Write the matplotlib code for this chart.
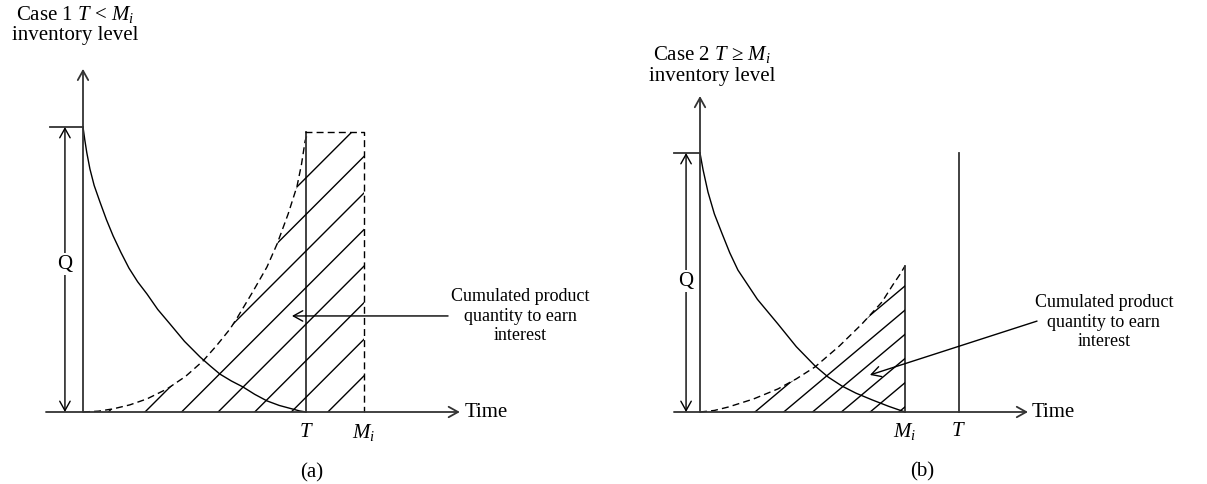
import numpy as np
import matplotlib
matplotlib.use('Agg')
import matplotlib.pyplot as plt
from matplotlib.patches import Polygon

plt.rcParams['font.family'] = ['Liberation Serif', 'DejaVu Serif']
plt.rcParams['mathtext.fontset'] = 'custom'
plt.rcParams['mathtext.rm'] = 'Liberation Serif'
plt.rcParams['mathtext.it'] = 'Liberation Serif:italic'
plt.rcParams['font.size'] = 15

# panel (a): case 1, T < M_i  (time in units of T, inventory in units of Q)
a_T = 1.0
a_M = 1.26
a_Q = 1.0
a_top = 0.982
a_decay_t = [0, 0.008, 0.017, 0.031, 0.05, 0.076, 0.105, 0.135, 0.17, 0.206, 0.245, 0.287,
             0.335, 0.390, 0.455, 0.525, 0.57, 0.614, 0.665, 0.717, 0.77, 0.825, 0.88, 0.937, 0.97, 1.0]
a_decay_q = [1.0, 0.955, 0.91, 0.853, 0.795, 0.737, 0.675, 0.618, 0.56, 0.505, 0.457, 0.414,
             0.36, 0.309, 0.248, 0.193, 0.162, 0.133, 0.109, 0.088, 0.062, 0.039, 0.023, 0.011, 0.004, 0.0]
a_cum_t = [0, 0.07, 0.135, 0.21, 0.287, 0.377, 0.46, 0.538, 0.6, 0.659, 0.691, 0.76,
           0.825, 0.870, 0.92, 0.960, 0.98, 0.996, 1.009]
a_cum_q = [0, 0.003, 0.011, 0.025, 0.046, 0.081, 0.125, 0.179, 0.234, 0.291, 0.330, 0.42,
           0.509, 0.589, 0.695, 0.793, 0.87, 0.951, 0.982]

# panel (b): case 2, T >= M_i  (time in units of M_i)
b_M = 1.0
b_T = 1.263
b_Q = 1.0
b_decay_t = [0, 0.015, 0.039, 0.07, 0.107, 0.145, 0.185, 0.28, 0.38, 0.47, 0.561, 0.625,
             0.693, 0.76, 0.839, 0.92, 1.0]
b_decay_q = [1.0, 0.935, 0.849, 0.765, 0.69, 0.615, 0.548, 0.435, 0.340, 0.252, 0.178, 0.135,
             0.100, 0.073, 0.047, 0.022, 0.0]
b_cum_t = [0, 0.07, 0.137, 0.26, 0.380, 0.47, 0.561, 0.68, 0.790, 0.888, 0.94, 0.976, 1.0]
b_cum_q = [0, 0.006, 0.019, 0.05, 0.089, 0.128, 0.174, 0.255, 0.340, 0.425, 0.49, 0.532, 0.564]

note = 'Cumulated product\nquantity to earn\ninterest'

W, H = 1207, 485
fig = plt.figure(figsize=(W/100, H/100), dpi=100)

def make_axes(left_px, right_px, x0_px, y0_px, sx, sy):
    ax = fig.add_axes([left_px/W, 0, (right_px-left_px)/W, 1])
    ax.set_xlim((left_px-x0_px)/sx, (right_px-x0_px)/sx)
    ax.set_ylim(-(H-y0_px)/sy, y0_px/sy)
    ax.axis('off')
    return ax

def arrow(ax, start, end, style='->', lw=1.0, color='black'):
    ax.annotate('', xy=end, xytext=start,
                arrowprops=dict(arrowstyle=style + ',head_length=0.45,head_width=0.25',
                                lw=lw, color=color, shrinkA=0, shrinkB=0))

def hatch(ax, poly_x, poly_y, starts, slope, length):
    clip = Polygon(np.column_stack([poly_x, poly_y]), closed=True, transform=ax.transData)
    for s in starts:
        ln, = ax.plot([s, s+length], [0, slope*length], color='black', lw=1.0)
        ln.set_clip_path(clip)

axis_col = '#333333'
dash = (0, (5, 3))

# ---------------- panel (a)
ax = make_axes(0, 603, 83, 413, 223, 285)
arrow(ax, (0, 0), (0, 1.204), lw=1.3, color=axis_col)
arrow(ax, (-0.166, 0), (1.69, 0), lw=1.3, color=axis_col)
ax.plot([-0.148, 0], [a_Q, a_Q], color=axis_col, lw=1.3)
arrow(ax, (-0.081, 0), (-0.081, a_Q), style='<->', lw=1.0)
ax.text(-0.081, 0.52, 'Q', ha='center', va='center', bbox=dict(fc='white', ec='none', pad=1))
ax.plot(a_decay_t, a_decay_q, color='black', lw=1.0)
ax.plot(a_cum_t, a_cum_q, color='black', lw=1.0, ls=dash)
ax.plot([a_T, a_T], [0, a_top], color=axis_col, lw=1.3)
ax.plot([0.996, a_M, a_M], [a_top, a_top, 0], color='black', lw=1.0, ls=dash)
hatch(ax, a_cum_t + [a_M, a_M], a_cum_q + [a_top, 0],
      -0.050 + 0.164*np.arange(8), 223/285, 1.5)
arrow(ax, (1.637, 0.337), (0.937, 0.337))
ax.text(1.96, 0.34, note, ha='center', va='center', fontsize=13, linespacing=1.2)
ax.text(1.71, 0, 'Time', ha='left', va='center')
ax.text(a_T, -0.067, '$T$', ha='center', va='center')
ax.text(a_M, -0.067, '$M_i$', ha='center', va='center')
ax.text(1.027, -0.21, '(a)', ha='center', va='center')
ax.text(-0.036, 1.363, 'Case 1 $T$ < $M_i$\ninventory level', ha='center', va='center',
        linespacing=1.1)

# ---------------- panel (b)
ax = make_axes(603, 1207, 700, 413, 205, 259)
arrow(ax, (0, 0), (0, 1.22), lw=1.3, color=axis_col)
arrow(ax, (-0.127, 0), (1.6, 0), lw=1.3, color=axis_col)
ax.plot([-0.127, 0], [b_Q, b_Q], color=axis_col, lw=1.3)
arrow(ax, (-0.068, 0), (-0.068, b_Q), style='<->', lw=1.0)
ax.text(-0.068, 0.506, 'Q', ha='center', va='center', bbox=dict(fc='white', ec='none', pad=1))
ax.plot(b_decay_t, b_decay_q, color='black', lw=1.0)
ax.plot(b_cum_t, b_cum_q, color='black', lw=1.0, ls=dash)
ax.plot([b_M, b_M], [0, b_cum_q[-1]], color=axis_col, lw=1.3)
ax.plot([b_T, b_T], [0, b_Q], color=axis_col, lw=1.3)
hatch(ax, b_cum_t + [b_M], b_cum_q + [0],
      0.268 + 0.1405*np.arange(6), 0.84*205/259, 1.5)
arrow(ax, (1.644, 0.351), (0.829, 0.143))
ax.text(1.97, 0.351, note, ha='center', va='center', fontsize=13, linespacing=1.2)
ax.text(1.62, 0, 'Time', ha='left', va='center')
ax.text(b_M, -0.073, '$M_i$', ha='center', va='center')
ax.text(b_T, -0.073, '$T$', ha='center', va='center')
ax.text(1.083, -0.228, '(b)', ha='center', va='center')
ax.text(0.059, 1.344, 'Case 2 $T$ ≥ $M_i$\ninventory level', ha='center', va='center',
        linespacing=1.1)

fig.savefig('out.png', dpi=100, facecolor='white')
